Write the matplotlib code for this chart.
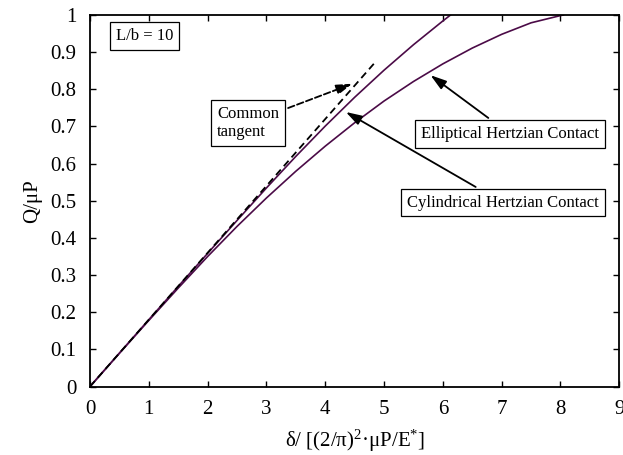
#!/usr/bin/env python3
import matplotlib

matplotlib.use("Agg")
import matplotlib.pyplot as plt

# values
upper_x = [0, 0.5, 1, 1.5, 2, 2.5, 3, 3.5, 4, 4.5, 5, 5.5, 6, 6.13]
upper_y = [0, 0.09, 0.18, 0.2695, 0.3585, 0.447, 0.5345, 0.6195, 0.701, 0.7785, 0.8515, 0.92, 0.984, 1.0]

lower_x = [0, 0.5, 1, 1.5, 2, 2.5, 3, 3.5, 4, 4.5, 5, 5.5, 6, 6.5, 7, 7.5, 8, 8.05]
lower_y = [0, 0.0895, 0.178, 0.265, 0.350, 0.431, 0.5075, 0.5795, 0.647, 0.71, 0.7685,
           0.821, 0.8685, 0.911, 0.948, 0.979, 0.9985, 1.0]

tangent_x = [0, 4.85]
tangent_y = [0, 0.873]

x_ticks = [0, 1, 2, 3, 4, 5, 6, 7, 8, 9]
y_ticks = [0, 0.1, 0.2, 0.3, 0.4, 0.5, 0.6, 0.7, 0.8, 0.9, 1.0]
y_labels = ["0", "0.1", "0.2", "0.3", "0.4", "0.5", "0.6", "0.7", "0.8", "0.9", "1"]

plt.rcParams["font.family"] = ["Liberation Serif", "DejaVu Serif"]
plt.rcParams["mathtext.fontset"] = "custom"
plt.rcParams["mathtext.rm"] = "Liberation Serif"
plt.rcParams["mathtext.it"] = "Liberation Serif:italic"

curve_color = "#4b0b47"
box = dict(boxstyle="square,pad=0.35", fc="white", ec="black", lw=0.9)
head = "-|>,head_length=0.8,head_width=0.25"

fig = plt.figure(figsize=(6.23, 4.55), dpi=100)
ax = fig.add_axes([0.1445, 0.1505, 0.8495, 0.8165])

ax.plot(upper_x, upper_y, color=curve_color, lw=1.2)
ax.plot(lower_x, lower_y, color=curve_color, lw=1.2)
ax.plot(tangent_x, tangent_y, color="black", lw=1.3, ls=(0, (4, 2.5)))

ax.set_xlim(0, 9)
ax.set_ylim(0, 1)
ax.set_xticks(x_ticks)
ax.set_yticks(y_ticks)
ax.set_yticklabels(y_labels)
ax.tick_params(direction="in", length=4, width=1, labelsize=15, top=True, right=True, pad=10)
for s in ax.spines.values():
    s.set_linewidth(1.3)

ax.set_xlabel(r"δ/ [(2/π)$^{2}$·μP/E$^{*}$]", fontsize=15, labelpad=6)
ax.set_ylabel("Q/μP", fontsize=15, labelpad=6)

ax.text(0.93, 0.944, "L/b = 10", fontsize=12, ha="center", va="center", bbox=box)

ax.annotate(
    "Common\ntangent", xy=(4.46, 0.815), xytext=(2.69, 0.709),
    fontsize=12, ha="center", va="center", multialignment="left", bbox=box,
    arrowprops=dict(arrowstyle=head, color="black", lw=1.3, ls="--", shrinkA=2, shrinkB=0),
)
ax.annotate(
    "Elliptical Hertzian Contact", xy=(5.79, 0.838), xytext=(7.14, 0.68),
    fontsize=12, ha="center", va="center", bbox=box,
    arrowprops=dict(arrowstyle=head, color="black", lw=1.3, shrinkA=2, shrinkB=0),
)
ax.annotate(
    "Cylindrical Hertzian Contact", xy=(4.35, 0.739), xytext=(7.02, 0.495),
    fontsize=12, ha="center", va="center", bbox=box,
    arrowprops=dict(arrowstyle=head, color="black", lw=1.3, shrinkA=2, shrinkB=0),
)

fig.savefig("out.png", dpi=100)
